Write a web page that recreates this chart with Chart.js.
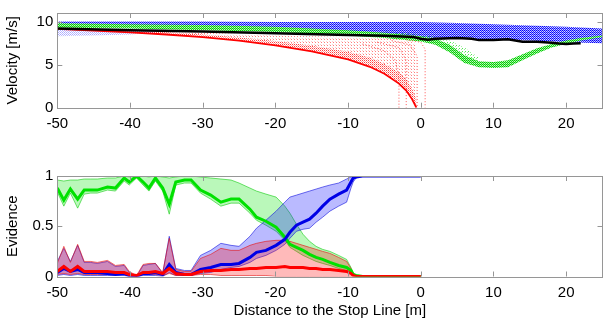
<!DOCTYPE html>
<html>
<head>
<meta charset="utf-8">
<script src="https://cdn.jsdelivr.net/npm/chart.js@4.4.1/dist/chart.umd.min.js"></script>
<style>
  body { margin: 0; background: #fff; }
  #wrap { position: relative; width: 608px; height: 324px; }
  .box { position: absolute; left: 0; width: 608px; }
  #topBox { top: 0; height: 145px; }
  #botBox { top: 145px; height: 179px; }
</style>
</head>
<body>
<div id="wrap">
  <div class="box" id="topBox"><canvas id="velChart" width="608" height="145"></canvas></div>
  <div class="box" id="botBox"><canvas id="evChart" width="608" height="179"></canvas></div>
</div>
<script>
'use strict';

// ---- velocity plot (top) ----
let blueX = [-50, -40, -30, -20, -10, -5, 0, 5, 10, 15, 20, 25];
let blueUp = [10.0, 10.0, 10.0, 9.95, 9.95, 9.95, 9.95, 9.85, 9.7, 9.55, 9.4, 9.2];
let blueLo = [9.5, 9.5, 9.4, 9.2, 8.9, 8.5, 8.1, 8.0, 7.9, 7.8, 7.6, 7.5];

let paleBlueX = [-50, -45, -40, -37, -35];
let paleBlueUp = [9.5, 9.4, 9.3, 9.2, 9.1];
let paleBlueLo = [8.3, 8.4, 8.5, 8.7, 9.0];

let greenX = [-50, -40, -30, -20, -10, -5, 0, 2, 4, 6, 8, 10, 12, 14, 16, 18, 20, 22, 25];
let greenUp = [9.8, 9.7, 9.6, 9.4, 9.0, 8.7, 8.3, 8.0, 7.3, 6.1, 5.4, 5.3, 5.5, 6.2, 6.9, 7.4, 7.8, 8.1, 8.4];
let greenLo = [9.3, 9.2, 9.0, 8.8, 8.4, 8.1, 7.7, 7.3, 6.4, 5.2, 4.7, 4.6, 4.7, 5.5, 6.3, 7.0, 7.4, 7.8, 8.2];

let greenSpX = [-5, 0, 2, 4, 6, 8];
let greenSpUp = [8.9, 8.5, 8.2, 7.8, 7.0, 5.8];
let greenSpLo = [8.7, 8.3, 8.0, 7.3, 6.1, 5.4];

let blackX = [-50, -40, -30, -20, -10, -5, -1, 0, 1, 2, 5, 7, 8, 10, 12, 13, 14, 16, 18, 19, 20, 21, 22];
let blackV = [9.2, 9.0, 8.85, 8.65, 8.45, 8.35, 8.2, 8.0, 7.9, 8.0, 8.1, 8.0, 7.85, 7.85, 7.95, 7.8, 7.65, 7.65, 7.55, 7.45, 7.4, 7.45, 7.5];

let redX = [-50, -45, -40, -35, -30, -25, -20, -15, -10, -7, -5, -3, -2, -1.2, -0.6];
let redV = [9.15, 8.95, 8.75, 8.5, 8.2, 7.8, 7.25, 6.55, 5.6, 4.75, 3.95, 2.8, 2.0, 1.0, 0];
let redMid = [9.3, 9.1, 8.95, 8.75, 8.5, 8.15, 7.75, 7.2, 6.5, 5.8, 5.1, 4.1, 3.3, 2.2, 1.0];
let redTop = [9.3, 9.15, 9.0, 8.85, 8.7, 8.55, 8.4, 8.3, 8.2, 8.15, 8.1, 8.0, 7.9, 7.6, 7.5];

let fan1X = [-8, -5, -3.5, -3, -3];
let fan1V = [7.4, 6.6, 5.5, 3.5, 0];
let fan2X = [-6, -3, -2, -2];
let fan2V = [7.6, 7.0, 5.5, 0];
let fan3X = [-4, -1.5, -0.5, -0.5];
let fan3V = [7.8, 7.3, 6.0, 0];
let fan4X = [-2, 0, 0.6, 0.6];
let fan4V = [7.9, 7.6, 6.8, 0];

// ---- evidence plot (bottom) ----
let evX = [-50, -49.1, -48.2, -47.2, -46.3, -45.4, -44.5, -43.1, -42, -40.8, -40.1, -39.1, -38.2, -37.4, -36.5, -35.5, -34.6, -33.7, -32.5, -31.6, -30.3, -28.9, -27.5, -26.1, -25, -23.5, -22.6, -21.3, -19.9, -18.7, -18, -17.1, -16.2, -15.3, -14.4, -13.5, -12.5, -11.3, -10.2, -9.6, -9.3, -8.9, -8, -6, -4, -2, 0];

let greenMean = [0.88, 0.76, 0.87, 0.77, 0.86, 0.86, 0.86, 0.89, 0.88, 0.98, 0.94, 1.0, 0.94, 0.88, 0.98, 0.88, 0.72, 0.94, 0.96, 0.96, 0.86, 0.81, 0.74, 0.77, 0.77, 0.67, 0.59, 0.55, 0.49, 0.39, 0.32, 0.29, 0.26, 0.22, 0.19, 0.17, 0.14, 0.11, 0.09, 0.06, 0.02, 0.01, 0, 0, 0, 0, 0];
let greenHigh = [0.96, 0.95, 0.96, 0.96, 0.97, 0.97, 0.97, 0.98, 0.98, 1.0, 0.99, 1.0, 1.0, 0.99, 1.0, 0.99, 0.98, 0.99, 1.0, 1.0, 0.99, 0.98, 0.97, 0.96, 0.93, 0.88, 0.85, 0.82, 0.79, 0.70, 0.63, 0.52, 0.42, 0.35, 0.30, 0.27, 0.25, 0.21, 0.17, 0.09, 0.04, 0.01, 0, 0, 0, 0, 0];
let greenLow = [0.84, 0.70, 0.83, 0.68, 0.82, 0.83, 0.83, 0.86, 0.85, 0.95, 0.91, 0.98, 0.91, 0.85, 0.95, 0.85, 0.62, 0.91, 0.93, 0.93, 0.83, 0.77, 0.70, 0.73, 0.73, 0.63, 0.56, 0.51, 0.45, 0.36, 0.29, 0.25, 0.21, 0.18, 0.15, 0.13, 0.11, 0.08, 0.06, 0.03, 0.01, 0, 0, 0, 0, 0, 0];

let blueMean = [0.04, 0.08, 0.05, 0.07, 0.04, 0.04, 0.04, 0.03, 0.02, 0.03, 0.01, 0.0, 0.03, 0.03, 0.04, 0.02, 0.12, 0.04, 0.02, 0.02, 0.07, 0.09, 0.12, 0.12, 0.13, 0.19, 0.24, 0.26, 0.31, 0.37, 0.44, 0.51, 0.54, 0.57, 0.63, 0.70, 0.77, 0.82, 0.86, 0.94, 0.98, 0.99, 1, 1, 1, 1, 1];
let blueHigh = [0.15, 0.28, 0.15, 0.31, 0.14, 0.14, 0.13, 0.15, 0.10, 0.11, 0.04, 0.0, 0.11, 0.12, 0.13, 0.03, 0.40, 0.08, 0.06, 0.06, 0.21, 0.26, 0.33, 0.31, 0.30, 0.40, 0.48, 0.56, 0.65, 0.74, 0.79, 0.81, 0.83, 0.85, 0.87, 0.89, 0.91, 0.93, 0.97, 0.99, 1, 1, 1, 1, 1, 1, 1];
let blueLow = [0.01, 0.02, 0.01, 0.02, 0.01, 0.01, 0.01, 0.01, 0.01, 0.01, 0.0, 0.0, 0.01, 0.01, 0.01, 0.0, 0.04, 0.01, 0.01, 0.01, 0.03, 0.04, 0.07, 0.09, 0.10, 0.14, 0.18, 0.21, 0.26, 0.32, 0.38, 0.45, 0.47, 0.48, 0.54, 0.59, 0.65, 0.70, 0.74, 0.88, 0.94, 0.98, 1, 1, 1, 1, 1];

let redMean = [0.05, 0.10, 0.05, 0.10, 0.05, 0.05, 0.05, 0.05, 0.04, 0.04, 0.02, 0.01, 0.04, 0.04, 0.05, 0.03, 0.08, 0.03, 0.02, 0.02, 0.05, 0.06, 0.06, 0.07, 0.07, 0.08, 0.08, 0.09, 0.09, 0.10, 0.09, 0.09, 0.09, 0.08, 0.08, 0.07, 0.07, 0.06, 0.05, 0.03, 0.01, 0, 0, 0, 0, 0, 0];
let redHigh = [0.13, 0.30, 0.14, 0.32, 0.15, 0.15, 0.14, 0.16, 0.11, 0.12, 0.05, 0.01, 0.12, 0.13, 0.13, 0.04, 0.38, 0.07, 0.05, 0.05, 0.18, 0.22, 0.28, 0.26, 0.26, 0.31, 0.33, 0.35, 0.36, 0.36, 0.35, 0.33, 0.31, 0.29, 0.27, 0.25, 0.23, 0.19, 0.15, 0.08, 0.03, 0, 0, 0, 0, 0, 0];
let redLow = [0.02, 0.03, 0.02, 0.03, 0.02, 0.02, 0.02, 0.02, 0.02, 0.02, 0.01, 0.0, 0.02, 0.02, 0.02, 0.01, 0.03, 0.01, 0.01, 0.01, 0.02, 0.02, 0.01, 0.01, 0.01, 0.01, 0.01, 0.01, 0, 0, 0, 0, 0, 0, 0, 0, 0, 0, 0, 0, 0, 0, 0, 0, 0, 0, 0];

function pts(xs, ys) {
  return xs.map((x, i) => ({ x: x, y: ys[i] }));
}

// small dotted tile used as fill pattern for the particle clouds
function dots(size, cells) {
  let c = document.createElement('canvas');
  c.width = size;
  c.height = size;
  let g = c.getContext('2d');
  for (let i = 0; i < cells.length; i++) {
    g.fillStyle = cells[i][2];
    g.fillRect(cells[i][0], cells[i][1], 1, 1);
  }
  return g.createPattern(c, 'repeat');
}

let blueDense = dots(2, [[0, 0, 'rgb(0,0,255)'], [1, 1, 'rgb(40,40,255)'], [1, 0, 'rgb(160,160,255)'], [0, 1, 'rgb(215,215,255)']]);
let bluePale = dots(2, [[0, 0, 'rgba(70,70,255,0.45)'], [1, 1, 'rgba(70,70,255,0.35)']]);
let greenDense = dots(2, [[0, 0, 'rgb(0,205,0)'], [1, 1, 'rgb(20,215,20)'], [1, 0, 'rgb(130,235,130)'], [0, 1, 'rgb(200,245,200)']]);
let greenPale = dots(3, [[0, 0, 'rgba(0,220,0,0.7)'], [2, 1, 'rgba(0,220,0,0.4)']]);
let redMed = dots(2, [[0, 0, 'rgba(255,0,0,0.75)'], [1, 1, 'rgba(255,0,0,0.35)']]);
let redPale = dots(3, [[0, 0, 'rgba(255,0,0,0.5)'], [2, 2, 'rgba(255,60,60,0.25)']]);

let grey = 'rgb(150,150,150)';
let font = { family: 'Liberation Sans, Arial, Helvetica, sans-serif', size: 15 };

// MATLAB style box with inward ticks
const boxPlugin = {
  id: 'box',
  afterDraw(chart) {
    let a = chart.chartArea;
    let ctx = chart.ctx;
    let xs = chart.scales.x;
    let ys = chart.scales.y;
    ctx.save();
    ctx.strokeStyle = grey;
    ctx.lineWidth = 1;
    ctx.strokeRect(Math.round(a.left) + 0.5, Math.round(a.top) + 0.5, Math.round(a.right - a.left), Math.round(a.bottom - a.top));
    ctx.beginPath();
    xs.ticks.forEach(t => {
      let px = Math.round(xs.getPixelForValue(t.value)) + 0.5;
      ctx.moveTo(px, a.bottom); ctx.lineTo(px, a.bottom - 5);
      ctx.moveTo(px, a.top); ctx.lineTo(px, a.top + 5);
    });
    ys.ticks.forEach(t => {
      let py = Math.round(ys.getPixelForValue(t.value)) + 0.5;
      ctx.moveTo(a.left, py); ctx.lineTo(a.left + 5, py);
      ctx.moveTo(a.right, py); ctx.lineTo(a.right - 5, py);
    });
    ctx.stroke();
    ctx.restore();
  }
};

function xScale(h, title) {
  return {
    type: 'linear', min: -50, max: 25,
    afterFit(s) { s.height = h; },
    grid: { display: false, drawTicks: false },
    border: { display: false },
    ticks: { stepSize: 10, includeBounds: false, padding: 7, color: '#000', font: font },
    title: { display: !!title, text: title, color: '#000', font: font }
  };
}

function yScale(max, step, title) {
  return {
    type: 'linear', min: 0, max: max,
    afterFit(s) { s.width = 57.3; },
    grid: { display: false, drawTicks: false },
    border: { display: false },
    ticks: { stepSize: step, includeBounds: false, padding: 4, color: '#000', font: font, callback: v => String(v) },
    title: { display: true, text: title, color: '#000', font: font, padding: { top: 4, bottom: 4 } }
  };
}

function band(xs, ys, color, fillTo, order) {
  return {
    data: pts(xs, ys), borderWidth: 0, borderColor: 'rgba(0,0,0,0)',
    backgroundColor: color, fill: fillTo === null ? false : fillTo, order: order, pointRadius: 0
  };
}

function line(xs, ys, color, width, order, dash) {
  return {
    data: pts(xs, ys), borderColor: color, borderWidth: width, borderDash: dash || [],
    fill: false, order: order, pointRadius: 0
  };
}

new Chart(document.getElementById('velChart'), {
  type: 'line',
  data: {
    datasets: [
      line(blackX, blackV, '#000', 2.5, 0),                 // 0
      line(redX, redV, 'rgb(255,0,0)', 1.8, 1),             // 1
      line(fan1X, fan1V, 'rgba(255,40,40,0.8)', 1, 2, [1, 2]), // 2
      line(fan2X, fan2V, 'rgba(255,40,40,0.8)', 1, 2, [1, 2]), // 3
      line(fan3X, fan3V, 'rgba(255,40,40,0.8)', 1, 2, [1, 2]), // 4
      line(fan4X, fan4V, 'rgba(255,40,40,0.8)', 1, 2, [1, 2]), // 5
      band(greenX, greenLo, 'rgba(0,0,0,0)', null, 3),      // 6
      band(greenX, greenUp, greenDense, 6, 3),              // 7
      band(greenSpX, greenSpLo, 'rgba(0,0,0,0)', null, 3),  // 8
      band(greenSpX, greenSpUp, greenPale, 8, 3),           // 9
      band(blueX, blueLo, 'rgba(0,0,0,0)', null, 4),        // 10
      band(blueX, blueUp, blueDense, 10, 4),                // 11
      band(paleBlueX, paleBlueLo, 'rgba(0,0,0,0)', null, 5),// 12
      band(paleBlueX, paleBlueUp, bluePale, 12, 5),         // 13
      band(redX, redV, 'rgba(0,0,0,0)', null, 6),           // 14
      band(redX, redMid, redMed, 14, 6),                    // 15
      band(redX, redTop, redPale, 15, 7)                    // 16
    ]
  },
  options: {
    responsive: false, animation: false,
    layout: { padding: { top: 8.5, right: 5.5, left: 0, bottom: 0 } },
    plugins: { legend: { display: false }, tooltip: { enabled: false } },
    scales: { x: xScale(37.3, ''), y: yScale(11, 5, 'Velocity [m/s]') }
  },
  plugins: [boxPlugin]
});

new Chart(document.getElementById('evChart'), {
  type: 'line',
  data: {
    datasets: [
      line(evX, redMean, 'rgb(255,0,0)', 3, 0),                  // 0
      line(evX, blueMean, 'rgb(0,0,230)', 3, 1),                 // 1
      line(evX, greenMean, 'rgb(0,225,0)', 3, 2),                // 2
      line(evX, redLow, 'rgba(230,0,0,0.55)', 1, 3),             // 3
      Object.assign(line(evX, redHigh, 'rgba(230,0,0,0.55)', 1, 3), { fill: 3, backgroundColor: 'rgba(255,0,0,0.27)' }),
      line(evX, blueLow, 'rgba(0,0,220,0.55)', 1, 4),            // 5
      Object.assign(line(evX, blueHigh, 'rgba(0,0,220,0.55)', 1, 4), { fill: 5, backgroundColor: 'rgba(0,0,255,0.27)' }),
      line(evX, greenLow, 'rgba(0,200,0,0.55)', 1, 5),           // 7
      Object.assign(line(evX, greenHigh, 'rgba(0,200,0,0.55)', 1, 5), { fill: 7, backgroundColor: 'rgba(0,230,0,0.27)' })
    ]
  },
  options: {
    responsive: false, animation: false,
    layout: { padding: { top: 31, right: 5.5, left: 0, bottom: 0 } },
    plugins: { legend: { display: false }, tooltip: { enabled: false } },
    scales: { x: xScale(47.5, 'Distance to the Stop Line [m]'), y: yScale(1, 0.5, 'Evidence') }
  },
  plugins: [boxPlugin]
});
</script>
</body>
</html>
